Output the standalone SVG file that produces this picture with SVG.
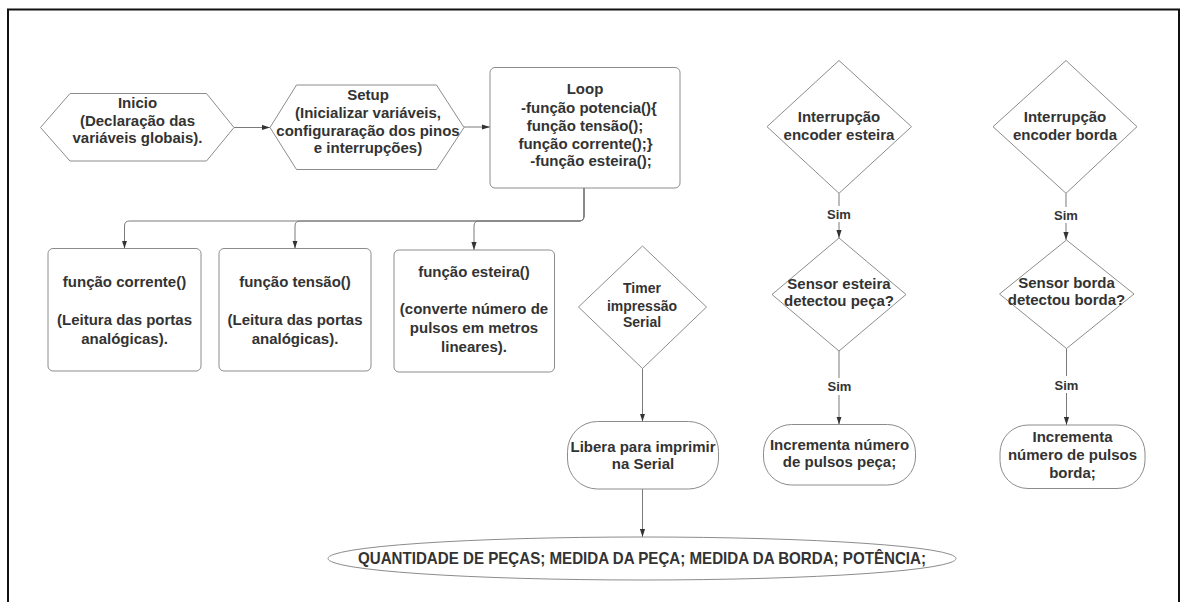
<svg xmlns="http://www.w3.org/2000/svg" width="1181" height="602" viewBox="0 0 1181 602">
  <defs>
    <marker id="arr" viewBox="0 0 8 6" refX="8" refY="3" markerWidth="8" markerHeight="6" markerUnits="userSpaceOnUse" orient="auto">
      <path d="M0,0.4 L8,3 L0,5.6 z" fill="#333"/>
    </marker>
    <style>
      .shape { fill: #fff; stroke: #8c8c8c; stroke-width: 1; stroke-linejoin: round; }
      .conn { fill: none; stroke: #7a7a7a; stroke-width: 1; marker-end: url(#arr); }
      .lbl-bg { fill: #fff; stroke: none; }
      text { font-family: "Liberation Sans", Arial, Helvetica, sans-serif; font-weight: bold; font-size: 15px; fill: #333; text-anchor: middle; }
      .sm { font-size: 14px; }
      .sim { font-size: 13px; }
      .out { font-family: "Liberation Sans Narrow", "Liberation Sans", Arial, sans-serif; font-size: 17px; }
    </style>
  </defs>

  <!-- outer frame -->
  <rect x="8" y="9.5" width="1171" height="620" fill="none" stroke="#111" stroke-width="2"/>

  <!-- connectors -->
  <g id="connectors">
    <path class="conn" d="M234,127.5 H270"/>
    <path class="conn" d="M464,127 H490"/>
    <path class="conn" d="M584,188 V216 Q584,221 579,221 H129.5 Q124.5,221 124.5,226 V248.5"/>
    <path class="conn" d="M584,188 V216 Q584,221 579,221 H300 Q295,221 295,226 V248.5"/>
    <path class="conn" d="M584,188 V216 Q584,221 579,221 H479 Q474,221 474,226 V250"/>
    <path class="conn" d="M642.5,368.5 V421.5"/>
    <path class="conn" d="M642.5,489 V537"/>
    <path class="conn" d="M839,193.3 V238"/>
    <path class="conn" d="M839,351 V424.5"/>
    <path class="conn" d="M1066,193.3 V240"/>
    <path class="conn" d="M1066.5,348.5 V425"/>
    <!-- Sim labels -->
    <rect class="lbl-bg" x="825" y="206" width="28" height="16"/>
    <text class="sim" x="839" y="219">Sim</text>
    <rect class="lbl-bg" x="825" y="378" width="28" height="17"/>
    <text class="sim" x="839.5" y="391">Sim</text>
    <rect class="lbl-bg" x="1052" y="207" width="28" height="16"/>
    <text class="sim" x="1066" y="220">Sim</text>
    <rect class="lbl-bg" x="1052.5" y="376" width="28" height="17"/>
    <text class="sim" x="1066.5" y="389.5">Sim</text>
  </g>

  <g id="inicio">
    <polygon class="shape" points="40.5,127.5 70,93.5 206.5,93.5 234,127.5 206.5,161 70,161"/>
    <text x="137.5" y="108.3">Inicio</text>
    <text x="137.5" y="125.7">(Declaração das</text>
    <text x="137.5" y="142.8">variáveis globais).</text>
  </g>

  <g id="setup">
    <polygon class="shape" points="270,127.5 296.5,85 436.5,85 464,127.5 436.5,169.5 296.5,169.5"/>
    <text x="368" y="100">Setup</text>
    <text x="368" y="117.5">(Inicializar variáveis,</text>
    <text x="368" y="135.5">configuraração dos pinos</text>
    <text x="368" y="153">e interrupções)</text>
  </g>

  <g id="loop">
    <rect class="shape" x="490" y="67.5" width="190" height="120.5" rx="5"/>
    <text x="585" y="94.3">Loop</text>
    <text x="589" y="112.8">-função potencia(){</text>
    <text x="585" y="131">função tensão();</text>
    <text x="585.5" y="149.3">função corrente();}</text>
    <text x="591" y="166">-função esteira();</text>
  </g>

  <g id="funcao-corrente">
    <rect class="shape" x="48" y="248.5" width="153" height="122.5" rx="5"/>
    <text x="124.5" y="286.5">função corrente()</text>
    <text x="124.5" y="324.5">(Leitura das portas</text>
    <text x="124.5" y="343.5">analógicas).</text>
  </g>

  <g id="funcao-tensao">
    <rect class="shape" x="219" y="248.5" width="152" height="122.5" rx="5"/>
    <text x="295" y="286.5">função tensão()</text>
    <text x="295" y="324.5">(Leitura das portas</text>
    <text x="295" y="343.5">analógicas).</text>
  </g>

  <g id="funcao-esteira">
    <rect class="shape" x="394" y="250" width="160.5" height="122" rx="5"/>
    <text x="474" y="277">função esteira()</text>
    <text x="474" y="314">(converte número de</text>
    <text x="474" y="333">pulsos em metros</text>
    <text x="474" y="351.5">lineares).</text>
  </g>

  <g id="timer">
    <polygon class="shape" points="642.5,246 706.5,307 642.5,368.5 578.5,307"/>
    <text class="sm" x="642" y="293.3">Timer</text>
    <text class="sm" x="642" y="310.7">impressão</text>
    <text class="sm" x="642" y="327.3">Serial</text>
  </g>

  <g id="libera">
    <rect class="shape" x="567.5" y="421.5" width="151" height="67.5" rx="30"/>
    <text x="643" y="452.3">Libera para imprimir</text>
    <text x="643" y="469">na Serial</text>
  </g>

  <g id="saida">
    <ellipse class="shape" cx="642" cy="558.5" rx="314" ry="21.5"/>
    <text class="out" x="642" y="564" textLength="568" lengthAdjust="spacingAndGlyphs">QUANTIDADE DE PEÇAS; MEDIDA DA PEÇA; MEDIDA DA BORDA; POTÊNCIA;</text>
  </g>

  <g id="int-esteira">
    <polygon class="shape" points="839,60.5 911.5,126.7 839,193.3 767,126.7"/>
    <text x="839" y="121.7">Interrupção</text>
    <text x="839" y="139.5">encoder esteira</text>
  </g>

  <g id="sensor-esteira">
    <polygon class="shape" points="839,238 906,294.5 839,351 772,294.5"/>
    <text x="839" y="288.5">Sensor esteira</text>
    <text x="839" y="306">detectou peça?</text>
  </g>

  <g id="incrementa-peca">
    <rect class="shape" x="763.5" y="424.5" width="152" height="60.5" rx="28"/>
    <text x="839.5" y="449.5">Incrementa número</text>
    <text x="839.5" y="467">de pulsos peça;</text>
  </g>

  <g id="int-borda">
    <polygon class="shape" points="1066,60.5 1137,126.7 1066,193.3 993,126.7"/>
    <text x="1065" y="121.7">Interrupção</text>
    <text x="1065" y="139.5">encoder borda</text>
  </g>

  <g id="sensor-borda">
    <polygon class="shape" points="1066.5,240 1134,294 1066.5,348.5 999.5,294"/>
    <text x="1066.5" y="288">Sensor borda</text>
    <text x="1066.5" y="305">detectou borda?</text>
  </g>

  <g id="incrementa-borda">
    <rect class="shape" x="1000" y="425" width="145" height="63.5" rx="28"/>
    <text x="1072.5" y="442">Incrementa</text>
    <text x="1072.5" y="460">número de pulsos</text>
    <text x="1072.5" y="477.5">borda;</text>
  </g>
</svg>
